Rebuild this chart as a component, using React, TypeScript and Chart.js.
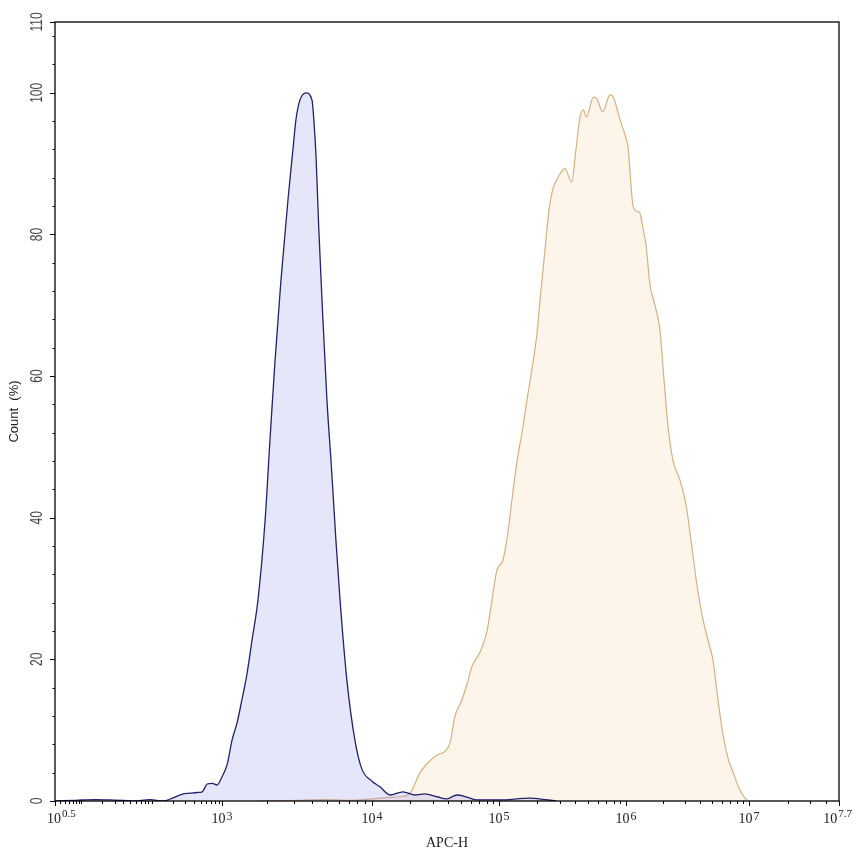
import React, { useEffect, useRef } from 'react';
import { Chart, registerables, LinearScale } from 'chart.js';

// ---- Axis definition (flow-cytometry style compressed log axis) ----
const WARP_EXP = [0.5, 1, 3, 4, 5, 6, 7, 7.7];
const WARP_FRAC = [0, 0.0332, 0.213, 0.4043, 0.5663, 0.7283, 0.8852, 1];

const X_LABEL_EXP = [0.5, 3, 4, 5, 6, 7, 7.7];
const X_LABEL_SUP = ['0.5', '3', '4', '5', '6', '7', '7.7'];
const Y_LABELS = [0, 20, 40, 60, 80, 100, 110];
const Y_MINOR_STEP = 4;

// ---- Data: x = log10(APC-H), y = Count (%) ----
const BLUE_EXP = [0.5, 0.9, 1.2, 1.41, 1.6, 1.74, 1.98, 2.16, 2.3, 2.43, 2.55, 2.65, 2.72, 2.79, 2.86, 2.93, 3.0, 3.035, 3.067, 3.1, 3.133, 3.167, 3.2, 3.24, 3.287, 3.32, 3.353, 3.393, 3.44, 3.473, 3.493, 3.52, 3.56, 3.6, 3.613, 3.627, 3.645, 3.667, 3.7, 3.727, 3.76, 3.787, 3.833, 3.887, 3.933, 4.0, 4.063, 4.142, 4.244, 4.339, 4.417, 4.512, 4.59, 4.669, 4.748, 4.827, 5.0, 5.244, 5.362, 5.45];
const BLUE_Y = [0, 0.1, 0.2, 0.15, 0.1, 0, 0.2, 0, 0.4, 0.95, 1.1, 1.2, 1.3, 2.4, 2.5, 2.26, 3.4, 5.2, 8.6, 11, 14.3, 18, 22.7, 28.4, 39.5, 51, 62, 73.5, 84.9, 92, 96.2, 99, 100, 99, 96, 91, 81, 70.6, 56.5, 48, 36.7, 28.4, 17, 8.5, 4.5, 2.8, 2.0, 0.85, 1.3, 0.85, 1.0, 0.6, 0.3, 0.85, 0.55, 0.15, 0.15, 0.4, 0.2, 0];

const ORANGE_EXP = [3.24, 3.52, 3.673, 3.853, 4.0, 4.142, 4.22, 4.3, 4.378, 4.441, 4.512, 4.575, 4.614, 4.654, 4.709, 4.756, 4.787, 4.85, 4.906, 4.945, 4.984, 5.031, 5.071, 5.102, 5.142, 5.181, 5.22, 5.26, 5.299, 5.323, 5.362, 5.394, 5.425, 5.454, 5.52, 5.572, 5.606, 5.638, 5.664, 5.69, 5.743, 5.77, 5.817, 5.874, 5.9, 5.953, 6.005, 6.016, 6.059, 6.1, 6.114, 6.141, 6.163, 6.195, 6.236, 6.276, 6.309, 6.341, 6.382, 6.439, 6.488, 6.528, 6.577, 6.626, 6.667, 6.707, 6.748, 6.789, 6.829, 6.878, 6.919, 6.959, 6.992];
const ORANGE_Y = [0, 0.1, 0.2, 0.1, 0.3, 0.5, 0.6, 1.1, 4.0, 5.4, 6.5, 7, 8.2, 12, 14.3, 17, 19, 21, 24, 28.4, 32.6, 34, 38, 42.5, 48, 52, 56.6, 61, 66, 70.7, 77.8, 83.5, 86.5, 87.7, 89.3, 87.4, 92, 96.6, 97.6, 96.6, 99.4, 99.2, 97.3, 99.7, 99.4, 96.2, 93.3, 92.4, 83.9, 83.2, 83, 80.6, 78.5, 72.9, 70, 66.5, 59.5, 53, 48.1, 45.3, 41.8, 36.9, 30.5, 25.6, 22.7, 19.9, 14.3, 9.3, 6.1, 3.7, 1.8, 0.6, 0];

function interp(v: number, xs: number[], ys: number[]) {
  if (v <= xs[0]) return ys[0] + (v - xs[0]) * (ys[1] - ys[0]) / (xs[1] - xs[0]);
  for (let i = 1; i < xs.length; i++) {
    if (v <= xs[i]) {
      const t = (v - xs[i - 1]) / (xs[i] - xs[i - 1]);
      return ys[i - 1] + t * (ys[i] - ys[i - 1]);
    }
  }
  const n = xs.length - 1;
  return ys[n] + (v - xs[n]) * (ys[n] - ys[n - 1]) / (xs[n] - xs[n - 1]);
}

class FlowLogScale extends LinearScale {
  static id = 'flowlog';
  static defaults = LinearScale.defaults;
  getPixelForValue(value: number) {
    return this.getPixelForDecimal(interp(value, WARP_EXP, WARP_FRAC));
  }
  getValueForPixel(pixel: number) {
    return interp(this.getDecimalForPixel(pixel), WARP_FRAC, WARP_EXP);
  }
}

Chart.register(...registerables, FlowLogScale);

const SERIF = '"Liberation Serif", "Times New Roman", serif';
const SANS = '"Liberation Sans", Arial, sans-serif';

const axisDecor = {
  id: 'axisDecor',
  afterDraw(chart: any) {
    const { ctx, chartArea: a, scales } = chart;
    const xs = scales.x;
    const ys = scales.y;
    ctx.save();
    // frame
    ctx.strokeStyle = '#000';
    ctx.lineWidth = 1.3;
    ctx.strokeRect(a.left, a.top, a.right - a.left, a.bottom - a.top);

    const line = (x1: number, y1: number, x2: number, y2: number) => {
      ctx.beginPath();
      ctx.moveTo(x1, y1);
      ctx.lineTo(x2, y2);
      ctx.stroke();
    };
    ctx.lineWidth = 1;
    // x minor ticks
    for (let d = 0; d <= 7; d++) {
      for (let k = 1; k <= 9; k++) {
        const e = d + Math.log10(k);
        if (e <= 0.5 || e >= 7.7) continue;
        if (X_LABEL_EXP.includes(e)) continue;
        const px = Math.round(xs.getPixelForValue(e)) + 0.5;
        line(px, a.bottom, px, a.bottom + 3);
      }
    }
    // x major ticks
    for (const e of X_LABEL_EXP) {
      const px = Math.round(xs.getPixelForValue(e)) + 0.5;
      line(px, a.bottom, px, a.bottom + 5);
    }
    // y ticks
    for (let v = 0; v < 110; v += Y_MINOR_STEP) {
      if (Y_LABELS.includes(v)) continue;
      const py = Math.round(ys.getPixelForValue(v)) + 0.5;
      line(a.left - 2.5, py, a.left, py);
    }
    for (const v of Y_LABELS) {
      const py = Math.round(ys.getPixelForValue(v)) + 0.5;
      line(a.left - 5, py, a.left, py);
    }

    // x labels
    ctx.fillStyle = '#222';
    ctx.textBaseline = 'alphabetic';
    ctx.textAlign = 'left';
    X_LABEL_EXP.forEach((e, i) => {
      const px = xs.getPixelForValue(e);
      const sup = X_LABEL_SUP[i];
      const frac = sup.includes('.');
      ctx.font = '14px ' + SERIF;
      const w1 = ctx.measureText('10').width;
      const supFont = (frac ? '11px ' : '12px ') + SERIF;
      ctx.font = supFont;
      const w2 = ctx.measureText(sup).width;
      const total = w1 + 1 + w2;
      let x0 = px - total / 2;
      if (x0 < 47) x0 = 47;
      if (x0 + total > 852) x0 = 852 - total;
      ctx.font = '14px ' + SERIF;
      ctx.fillText('10', x0, 823);
      ctx.font = supFont;
      ctx.fillText(sup, x0 + w1 + 1, frac ? 817 : 820);
    });
    // x title
    ctx.font = '14px ' + SERIF;
    ctx.textAlign = 'center';
    ctx.fillText('APC-H', (a.left + a.right) / 2, 847);

    // y labels (rotated)
    ctx.fillStyle = '#444';
    ctx.font = '12px ' + SANS;
    for (const v of Y_LABELS) {
      const py = ys.getPixelForValue(v);
      ctx.save();
      ctx.translate(a.left - 18, py);
      ctx.rotate(-Math.PI / 2);
      ctx.scale(1, 1.4);
      ctx.textAlign = 'center';
      ctx.textBaseline = 'middle';
      ctx.fillText(String(v), 0, 0);
      ctx.restore();
    }
    // y title
    ctx.save();
    ctx.translate(14, (a.top + a.bottom) / 2);
    ctx.rotate(-Math.PI / 2);
    ctx.font = '13px ' + SANS;
    ctx.fillStyle = '#222';
    ctx.textAlign = 'center';
    ctx.textBaseline = 'middle';
    ctx.fillText('Count  (%)', 0, 0);
    ctx.restore();

    ctx.restore();
  },
};

export default function App() {
  const ref = useRef<HTMLCanvasElement>(null);
  useEffect(() => {
    document.body.style.margin = '0';
    const canvas = ref.current;
    if (!canvas) return;
    const chart = new Chart(canvas, {
      type: 'line',
      data: {
        datasets: [
          {
            label: 'Control',
            data: BLUE_EXP.map((x, i) => ({ x, y: BLUE_Y[i] })),
            borderColor: '#22226a',
            backgroundColor: 'rgba(150,150,235,0.24)',
            borderWidth: 1.3,
            pointRadius: 0,
            fill: 'origin',
            cubicInterpolationMode: 'monotone',
          },
          {
            label: 'Sample',
            data: ORANGE_EXP.map((x, i) => ({ x, y: ORANGE_Y[i] })),
            borderColor: '#d6b184',
            backgroundColor: 'rgba(250,222,190,0.33)',
            borderWidth: 1.2,
            pointRadius: 0,
            fill: 'origin',
            cubicInterpolationMode: 'monotone',
          },
        ],
      },
      options: {
        responsive: false,
        animation: false,
        devicePixelRatio: 1,
        events: [],
        layout: { padding: { left: 55, right: 14, top: 22, bottom: 55 } },
        plugins: { legend: { display: false }, tooltip: { enabled: false } },
        scales: {
          x: { type: 'flowlog', min: 0.5, max: 7.7, display: false },
          y: { type: 'linear', min: 0, max: 110, display: false },
        },
      } as any,
      plugins: [axisDecor],
    } as any);
    return () => chart.destroy();
  }, []);
  return (
    <div style={{ position: 'fixed', left: 0, top: 0, width: 853, height: 856, background: '#fff' }}>
      <canvas ref={ref} width={853} height={856} style={{ display: 'block' }} />
    </div>
  );
}
